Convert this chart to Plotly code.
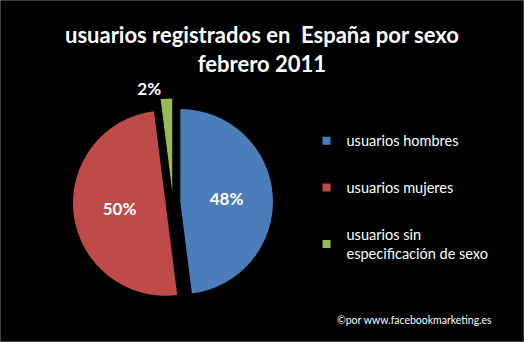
import plotly.graph_objects as go

labels = ["usuarios hombres", "usuarios mujeres", "usuarios sin<br>especificación de sexo"]
values = [48, 50, 2]
text_labels = ["48%", "50%", "2%"]
colors = ["#4A7EBB", "#BE4B48", "#98B954"]

fig = go.Figure()
fig.add_trace(go.Pie(
    labels=labels, values=values, text=text_labels, textinfo="text",
    sort=False, direction="clockwise", rotation=0,
    pull=[0.08, 0.08, 0.12],
    marker=dict(colors=colors, line=dict(width=0)),
    textposition=["inside", "inside", "outside"],
    insidetextorientation="horizontal",
    textfont=dict(family="Lato", size=17, color="white", weight="bold"),
    outsidetextfont=dict(family="Lato", size=17, color="white", weight="bold"),
    domain=dict(x=[0.132, 0.528], y=[0.105, 0.713]),
    showlegend=False,
))

for lab, col in zip(labels, colors):
    fig.add_trace(go.Scatter(
        x=[None], y=[None], mode="markers", name=lab, legendgroup=lab,
        marker=dict(symbol="square", size=8, color=col),
    ))

fig.update_layout(
    width=524, height=342,
    paper_bgcolor="black", plot_bgcolor="black",
    margin=dict(l=0, r=0, t=0, b=0),
    xaxis=dict(visible=False), yaxis=dict(visible=False),
    legend=dict(x=0.585, y=0.635, xanchor="left", yanchor="top",
                font=dict(family="Lato", size=14.5, color="white"),
                tracegroupgap=25, itemwidth=30, bgcolor="rgba(0,0,0,0)"),
    annotations=[
        dict(text="<b>usuarios registrados en  España por sexo<br>febrero 2011</b>",
             x=0.5, y=1 - 49 / 342, xref="paper", yref="paper",
             xanchor="center", yanchor="middle", showarrow=False,
             font=dict(family="Lato", size=22, color="white")),
        dict(text="©por www.facebookmarketing.es", x=414 / 524, y=1 - 320 / 342,
             xref="paper", yref="paper", xanchor="center", yanchor="middle",
             showarrow=False, font=dict(family="Lato", size=10.5, color="white")),
    ],
    shapes=[dict(type="rect", xref="paper", yref="paper", x0=0, y0=0, x1=1, y1=1,
                 line=dict(color="#808080", width=1))],
)

fig.write_html("out.html")
